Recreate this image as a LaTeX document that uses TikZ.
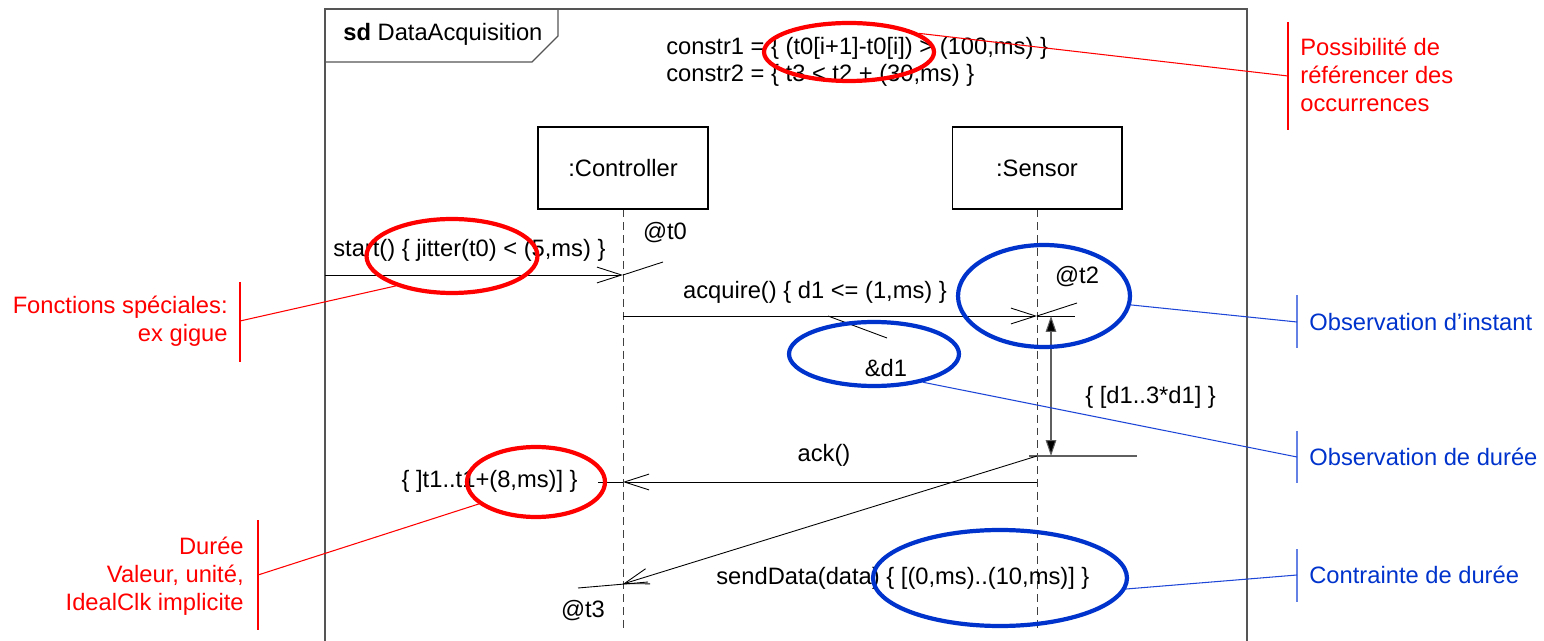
\documentclass[tikz,border=0pt]{standalone}
\usepackage{fontspec}
\setmainfont{Liberation Sans}
\usetikzlibrary{arrows.meta,shapes.geometric}
\definecolor{myred}{RGB}{255,0,0}
\definecolor{myblue}{RGB}{0,51,204}
\definecolor{lineblue}{RGB}{30,70,215}
\definecolor{bracketblue}{RGB}{100,130,230}
\definecolor{framegray}{RGB}{85,85,85}
\definecolor{dimgray}{RGB}{95,95,95}
\begin{document}
\begin{tikzpicture}[x=0.02cm,y=-0.02cm,
  every node/.style={font=\fontsize{13.5}{16}\selectfont, inner sep=0pt},
  frameline/.style={draw=framegray, line width=0.8pt},
  lifebox/.style={draw=black, line width=0.6pt, minimum width=3.4cm, minimum height=1.64cm},
  lifeline/.style={draw=black!75, line width=0.5pt, dash pattern=on 4.5pt off 2.8pt},
  msg/.style={draw=black, line width=0.5pt, -{Straight Barb[length=14pt,width=9pt]}},
  tickline/.style={draw=black, line width=0.5pt},
  dimline/.style={draw=dimgray, line width=0.6pt},
  dimarrow/.style={draw=dimgray, line width=0.6pt, {Triangle[length=9pt,width=6pt,fill=black]}-{Triangle[length=9pt,width=6pt,fill=black]}},
  redell/.style={ellipse, draw=myred, line width=2.4pt},
  blueell/.style={ellipse, draw=myblue, line width=2.4pt},
  redline/.style={draw=myred, line width=0.6pt},
  redbracket/.style={draw=myred, line width=0.8pt},
  blueline/.style={draw=lineblue, line width=0.6pt},
  bluebracket/.style={draw=bracketblue, line width=0.9pt},
  rednote/.style={text=myred},
  bluenote/.style={text=myblue, anchor=west}
]
\useasboundingbox (0,0) rectangle (1544,641);

% frame
\draw[frameline] (325,641) -- (325,9) -- (1247,9) -- (1247,641);
\draw[frameline] (325,62) -- (532,62) -- (558,36) -- (558,9);
\node[anchor=west] (sdlabel) at (343,34) {\textbf{sd} DataAcquisition};

% constraints
\node[anchor=west] (c1) at (666,48) {constr1 = \{ (t0[i+1]-t0[i]) > (100,ms) \}};
\node[anchor=west] (c2) at (666,75) {constr2 = \{ t3 < t2 + (30,ms) \}};

% lifelines
\node[lifebox] (ctrl) at (623,168) {:Controller};
\node[lifebox] (sens) at (1037,168) {:Sensor};
\coordinate (ctrlEnd) at (623,632);
\coordinate (sensEnd) at (1037,632);
\draw[lifeline] (ctrl.south) -- (ctrlEnd);
\draw[lifeline] (sens.south) -- (sensEnd);

% start
\coordinate (startSrc) at (325,275);
\coordinate (t0) at (623,275);
\coordinate (t0tick) at (663,262);
\draw[msg] (startSrc) -- (t0);
\draw[tickline] (t0) -- (t0tick);
\node[anchor=west] (startlbl) at (333,250) {start() \{ jitter(t0) < (5,ms) \}};
\node (t0lbl) at (665,233) {@t0};

% acquire
\coordinate (acqSrc) at (623,316);
\coordinate (t2) at (1037,316);
\coordinate (t2tick) at (1077,303);
\coordinate (brTop) at (1075,316);
\draw[msg] (acqSrc) -- (t2);
\draw[tickline] (t2) -- (t2tick);
\draw[tickline] (t2) -- (brTop);
\node (acqlbl) at (815,292) {acquire() \{ d1 <= (1,ms) \}};
\node (t2lbl) at (1077,277) {@t2};
\coordinate (d1a) at (828,316);
\coordinate (d1b) at (887,338);
\draw[tickline] (d1a) -- (d1b);
\node (d1lbl) at (886,368) {\&d1};

% duration constraint
\coordinate (dA) at (1051,316);
\coordinate (dB) at (1051,456);
\draw[dimarrow] (dA) -- (dB);
\coordinate (brBotL) at (1029,456);
\coordinate (brBotR) at (1137,456);
\draw[dimline] (brBotL) -- (brBotR);
\node[anchor=west] (durlbl) at (1085,397) {\{ [d1..3*d1] \}};

% ack
\coordinate (ackSrc) at (1037,482);
\coordinate (ackDst) at (623,482);
\coordinate (ackStub) at (598,482);
\draw[msg] (ackSrc) -- (ackDst);
\draw[tickline] (ackStub) -- (ackDst);
\node (acklbl) at (824,455) {ack()};
\node[anchor=east] (t1lbl) at (578,481) {\{ ]t1..t1+(8,ms)] \}};

% sendData
\coordinate (sendSrc) at (1037,456);
\coordinate (t3) at (623,584);
\coordinate (t3a) at (578,588);
\coordinate (t3b) at (648,582);
\draw[msg] (sendSrc) -- (t3);
\draw[tickline] (t3a) -- (t3b);
\node[anchor=west] (sendlbl) at (716,578) {sendData(data) \{ [(0,ms)..(10,ms)] \}};
\node (t3lbl) at (583,611) {@t3};

% highlight ellipses
\node[redell, minimum width=3.4cm, minimum height=1.16cm] (topell) at (849,52) {};
\node[redell, minimum width=3.42cm, minimum height=1.48cm] (startell) at (452,256) {};
\node[redell, minimum width=2.76cm, minimum height=1.4cm] (durell) at (536,482) {};
\node[blueell, minimum width=3.44cm, minimum height=2.04cm] (t2ell) at (1044,296) {};
\node[blueell, minimum width=3.4cm, minimum height=1.28cm] (d1ell) at (874,354) {};
\node[blueell, minimum width=5.08cm, minimum height=1.92cm] (sdell) at (1000,578) {};

% red notes
\coordinate (posTop) at (1288,22);
\coordinate (posBot) at (1288,130);
\coordinate (posMid) at (1288,76);
\draw[redbracket] (posTop) -- (posBot);
\draw[redline] (topell.15) -- (posMid);
\node[rednote, anchor=west, align=left, font=\fontsize{13.5}{15.9}\selectfont] (posnote) at (1300,75) {Possibilité de\\référencer des\\occurrences};

\coordinate (fonTop) at (240,282);
\coordinate (fonBot) at (240,362);
\coordinate (fonMid) at (240,321);
\draw[redbracket] (fonTop) -- (fonBot);
\draw[redline] (startell.208) -- (fonMid);
\node[rednote, anchor=east, align=right, font=\fontsize{13.5}{15.9}\selectfont] (fonnote) at (228,321) {Fonctions spéciales:\\ex gigue};

\coordinate (durTop) at (258,520);
\coordinate (durBot) at (258,630);
\coordinate (durMid) at (258,575);
\draw[redbracket] (durTop) -- (durBot);
\draw[redline] (durell.201) -- (durMid);
\node[rednote, anchor=east, align=right, font=\fontsize{13.5}{15.9}\selectfont] (durnote) at (244,576) {Durée\\Valeur, unité,\\IdealClk implicite};

% blue notes
\coordinate (oiTop) at (1297,295);
\coordinate (oiBot) at (1297,348);
\coordinate (oiMid) at (1297,322);
\draw[bluebracket] (oiTop) -- (oiBot);
\draw[blueline] (t2ell) -- (oiMid);
\node[bluenote] (oinote) at (1309,322) {Observation d’instant};

\coordinate (odTop) at (1297,431);
\coordinate (odBot) at (1297,483);
\coordinate (odMid) at (1297,457);
\draw[bluebracket] (odTop) -- (odBot);
\draw[blueline] (d1ell.-30) -- (odMid);
\node[bluenote] (odnote) at (1309,457) {Observation de durée};

\coordinate (cdTop) at (1297,549);
\coordinate (cdBot) at (1297,602);
\coordinate (cdMid) at (1297,575);
\draw[bluebracket] (cdTop) -- (cdBot);
\draw[blueline] (sdell.-5) -- (cdMid);
\node[bluenote] (cdnote) at (1309,575) {Contrainte de durée};
\end{tikzpicture}
\end{document}
